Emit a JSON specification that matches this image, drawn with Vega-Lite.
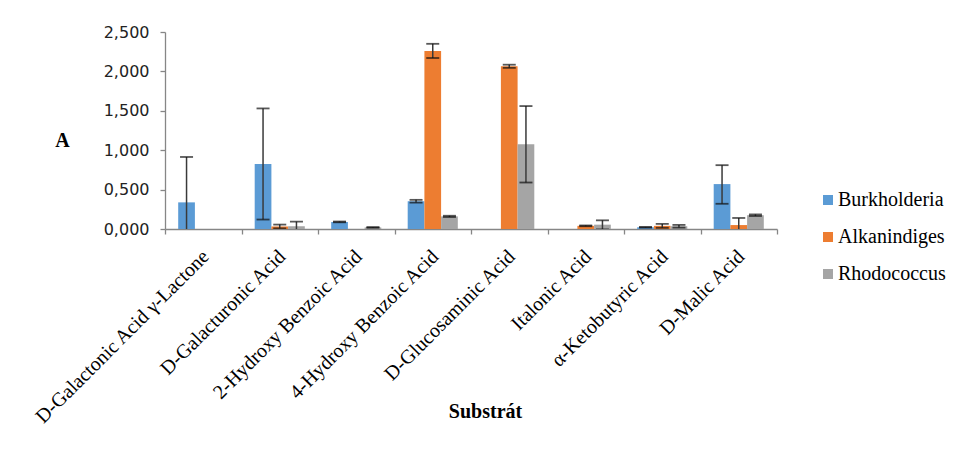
{
  "$schema": "https://vega.github.io/schema/vega-lite/v6.json",
  "autosize": {"type": "none"},
  "padding": {"left": 165, "top": 32, "right": 176, "bottom": 224},
  "width": 612,
  "height": 197,
  "background": "white",
  "config": {
    "view": {"stroke": null},
    "locale": {"number": {"decimal": ",", "thousands": " ", "grouping": [3], "currency": ["", " Kč"]}},
    "legend": {"labelFont": "Liberation Serif", "labelFontSize": 20, "labelColor": "#000"},
    "axisY": {
      "titleAngle": 0, "titleX": -103, "titleY": 108,
      "titleAlign": "center", "titleBaseline": "middle",
      "titleFont": "Liberation Serif", "titleFontSize": 20, "titleFontWeight": "bold", "titleColor": "#000",
      "labelFont": "DejaVu Sans", "labelFontSize": 16, "labelColor": "#222",
      "labelPadding": 11, "tickSize": 5, "tickColor": "#868686", "domainColor": "#868686",
      "domainWidth": 1.3, "tickWidth": 1.3, "grid": false
    }
  },
  "data": {"values": [
    {"sub": "D-Galactonic Acid γ-Lactone", "org": "Burkholderia", "v": 0.338, "lo": -0.238, "hi": 0.914},
    {"sub": "D-Galactonic Acid γ-Lactone", "org": "Alkanindiges", "v": 0, "lo": null, "hi": null},
    {"sub": "D-Galactonic Acid γ-Lactone", "org": "Rhodococcus", "v": 0, "lo": null, "hi": null},
    {"sub": "D-Galacturonic Acid", "org": "Burkholderia", "v": 0.825, "lo": 0.12, "hi": 1.53},
    {"sub": "D-Galacturonic Acid", "org": "Alkanindiges", "v": 0.032, "lo": 0.008, "hi": 0.056},
    {"sub": "D-Galacturonic Acid", "org": "Rhodococcus", "v": 0.035, "lo": -0.023, "hi": 0.093},
    {"sub": "2-Hydroxy Benzoic Acid", "org": "Burkholderia", "v": 0.09, "lo": 0.085, "hi": 0.095},
    {"sub": "2-Hydroxy Benzoic Acid", "org": "Alkanindiges", "v": 0, "lo": null, "hi": null},
    {"sub": "2-Hydroxy Benzoic Acid", "org": "Rhodococcus", "v": 0.02, "lo": 0.016, "hi": 0.024},
    {"sub": "4-Hydroxy Benzoic Acid", "org": "Burkholderia", "v": 0.352, "lo": 0.335, "hi": 0.37},
    {"sub": "4-Hydroxy Benzoic Acid", "org": "Alkanindiges", "v": 2.26, "lo": 2.17, "hi": 2.35},
    {"sub": "4-Hydroxy Benzoic Acid", "org": "Rhodococcus", "v": 0.16, "lo": 0.152, "hi": 0.168},
    {"sub": "D-Glucosaminic Acid", "org": "Burkholderia", "v": 0, "lo": null, "hi": null},
    {"sub": "D-Glucosaminic Acid", "org": "Alkanindiges", "v": 2.065, "lo": 2.045, "hi": 2.085},
    {"sub": "D-Glucosaminic Acid", "org": "Rhodococcus", "v": 1.075, "lo": 0.59, "hi": 1.56},
    {"sub": "Italonic Acid", "org": "Burkholderia", "v": 0, "lo": null, "hi": null},
    {"sub": "Italonic Acid", "org": "Alkanindiges", "v": 0.04, "lo": 0.035, "hi": 0.045},
    {"sub": "Italonic Acid", "org": "Rhodococcus", "v": 0.055, "lo": -0.005, "hi": 0.11},
    {"sub": "α-Ketobutyric Acid", "org": "Burkholderia", "v": 0.022, "lo": 0.018, "hi": 0.026},
    {"sub": "α-Ketobutyric Acid", "org": "Alkanindiges", "v": 0.04, "lo": 0.015, "hi": 0.065},
    {"sub": "α-Ketobutyric Acid", "org": "Rhodococcus", "v": 0.035, "lo": 0.018, "hi": 0.052},
    {"sub": "D-Malic Acid", "org": "Burkholderia", "v": 0.57, "lo": 0.32, "hi": 0.81},
    {"sub": "D-Malic Acid", "org": "Alkanindiges", "v": 0.05, "lo": -0.04, "hi": 0.14},
    {"sub": "D-Malic Acid", "org": "Rhodococcus", "v": 0.175, "lo": 0.165, "hi": 0.185}
  ]},
  "encoding": {
    "x": {
      "field": "sub", "type": "nominal",
      "sort": ["D-Galactonic Acid γ-Lactone", "D-Galacturonic Acid", "2-Hydroxy Benzoic Acid", "4-Hydroxy Benzoic Acid", "D-Glucosaminic Acid", "Italonic Acid", "α-Ketobutyric Acid", "D-Malic Acid"],
      "scale": {"paddingInner": 0, "paddingOuter": 0},
      "axis": {
        "title": "Substrát",
        "titleFont": "Liberation Serif", "titleFontSize": 20, "titleFontWeight": "bold", "titleColor": "#000",
        "titleX": 320, "titleY": 182, "titleBaseline": "middle", "titleAlign": "center",
        "labelAngle": -45, "labelFont": "Liberation Serif", "labelFontSize": 20, "labelColor": "#000",
        "labelPadding": 12, "labelLimit": 0, "labelOffset": -5,
        "tickBand": "extent", "tickSize": 5, "tickColor": "#868686", "domainColor": "#868686",
        "domainWidth": 1.3, "tickWidth": 1.3, "grid": false
      }
    },
    "xOffset": {
      "field": "org", "type": "nominal",
      "sort": ["Burkholderia", "Alkanindiges", "Rhodococcus"],
      "scale": {"paddingInner": 0, "paddingOuter": 0.79}
    }
  },
  "layer": [
    {
      "mark": {"type": "bar"},
      "encoding": {
        "y": {
          "field": "v", "type": "quantitative",
          "scale": {"domain": [0, 2.5], "nice": false, "zero": true},
          "axis": {"title": "A", "values": [0, 0.5, 1, 1.5, 2, 2.5], "format": ".3f"}
        },
        "color": {
          "field": "org", "type": "nominal",
          "sort": ["Burkholderia", "Alkanindiges", "Rhodococcus"],
          "scale": {"domain": ["Burkholderia", "Alkanindiges", "Rhodococcus"], "range": ["#5B9BD5", "#ED7D31", "#A5A5A5"]},
          "legend": {
            "title": null, "orient": "none", "legendX": 653, "legendY": 158,
            "symbolType": "square", "symbolSize": 100, "symbolStrokeWidth": 0,
            "labelFont": "Liberation Serif", "labelFontSize": 20, "labelColor": "#000",
            "rowPadding": 17, "padding": 0, "labelOffset": 0
          }
        }
      }
    },
    {
      "mark": {"type": "rule", "clip": true, "color": "#3a3a3a", "strokeWidth": 1.5},
      "encoding": {
        "y": {"field": "lo", "type": "quantitative", "axis": {"title": "A", "values": [0, 0.5, 1, 1.5, 2, 2.5], "format": ".3f"}},
        "y2": {"field": "hi"}
      }
    },
    {
      "mark": {"type": "tick", "clip": true, "color": "#111", "thickness": 1.8, "size": 13},
      "encoding": {"y": {"field": "hi", "type": "quantitative", "axis": {"title": "A", "values": [0, 0.5, 1, 1.5, 2, 2.5], "format": ".3f"}}}
    },
    {
      "mark": {"type": "tick", "clip": true, "color": "#111", "thickness": 1.8, "size": 13},
      "encoding": {"y": {"field": "lo", "type": "quantitative", "axis": {"title": "A", "values": [0, 0.5, 1, 1.5, 2, 2.5], "format": ".3f"}}}
    }
  ]
}
